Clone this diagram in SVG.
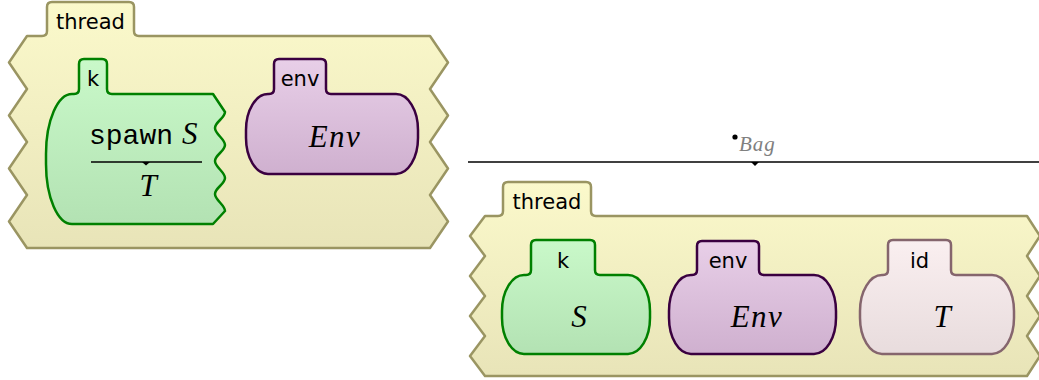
<svg xmlns="http://www.w3.org/2000/svg" width="1039" height="380" viewBox="0 0 1039 380">
<defs>
<linearGradient id="gThread" x1="0" y1="0" x2="0" y2="1"><stop offset="0" stop-color="#fbf9cb"/><stop offset="1" stop-color="#e8e4b8"/></linearGradient>
<linearGradient id="gGreen" x1="0" y1="0" x2="0" y2="1"><stop offset="0" stop-color="#c9f9c9"/><stop offset="1" stop-color="#b3e2b3"/></linearGradient>
<linearGradient id="gEnv" x1="0" y1="0" x2="0" y2="1"><stop offset="0" stop-color="#e8cfe8"/><stop offset="1" stop-color="#cfb0cf"/></linearGradient>
<linearGradient id="gId" x1="0" y1="0" x2="0" y2="1"><stop offset="0" stop-color="#faeff0"/><stop offset="1" stop-color="#e8dcdd"/></linearGradient>
</defs>
<style>
.thread{fill:url(#gThread);stroke:#9a9562;stroke-width:2.5;stroke-linejoin:round}
.kc{fill:url(#gGreen);stroke:#008000;stroke-width:2.5;stroke-linejoin:round}
.ec{fill:url(#gEnv);stroke:#3a0040;stroke-width:2.5;stroke-linejoin:round}
.ic{fill:url(#gId);stroke:#85656d;stroke-width:2.5;stroke-linejoin:round}
.lbl{font-family:"DejaVu Sans","Liberation Sans",sans-serif;font-size:21px;fill:#000;text-anchor:middle}
.mi{font-family:"Liberation Serif","DejaVu Serif",serif;font-style:italic;font-size:31px;fill:#000}
.tt{font-family:"Liberation Mono","DejaVu Sans Mono",monospace;font-size:28px;fill:#000}
.rule{stroke:#000;stroke-width:1.3;fill:none}
.tip{fill:#000;stroke:none}
</style>

<g id="thread-left">
<path class="thread" d="M27,36 L42,36 Q47,36 47,31 L47,7 Q47,2 52,2 L129,2 Q134,2 134,7 L134,31 Q134,36 139,36 L430,36 L448,62.5 L430,89 L448,115.5 L430,142 L448,168.5 L430,195 L448,221.5 L430,248 L27,248 L9,221.5 L27,195 L9,168.5 L27,142 L9,115.5 L27,89 L9,62.5 Z"/>
<text class="lbl" x="90.5" y="29">thread</text>
</g>

<g id="k-left">
<path class="kc" d="M72,94 L74,94 Q79,94 79,89 L79,64 Q79,59 84,59 L102,59 Q107,59 107,64 L107,89 Q107,94 112,94 L213,94 L225,112 C225,118 215,122 215,128 C215,134 225,139 225,145 C225,151 215,155 215,161 C215,167 225,172 225,178 C225,184 215,188 215,194 C215,200 225,205 225,211 L213,224 L72,224 A26 60 0 0 1 46,164 L46,154 A26 60 0 0 1 72,94 Z"/>
<text class="lbl" x="93" y="86">k</text>
<text x="89" y="144"><tspan class="tt">spawn</tspan><tspan class="mi" x="182">S</tspan></text>
<line class="rule" x1="91" y1="162" x2="202" y2="162" stroke="#333"/>
<polygon class="tip" points="142,162 150,162 146,165.5"/>
<text class="mi" x="148" y="196" text-anchor="middle">T</text>
</g>

<g id="env-left">
<path class="ec" d="M268,94 L269,94 Q274,94 274,89 L274,64 Q274,59 279,59 L321,59 Q326,59 326,64 L326,89 Q326,94 331,94 L396,94 A22 36 0 0 1 418,130 L418,138 A22 36 0 0 1 396,174 L268,174 A22 36 0 0 1 246,138 L246,130 A22 36 0 0 1 268,94 Z"/>
<text class="lbl" x="300" y="86">env</text>
<text class="mi" x="335" y="147" text-anchor="middle" letter-spacing="1.5">Env</text>
</g>

<g id="connectors">
<line class="rule" x1="468" y1="162" x2="1039" y2="162"/>
<polygon class="tip" points="751,162 759,162 755,166"/>
<circle cx="735" cy="137" r="2.6" fill="#000"/>
<text x="739" y="151" font-family="Liberation Serif, serif" font-style="italic" font-size="21" fill="#808080" letter-spacing="1">Bag</text>
</g>

<g id="thread-right">
<path class="thread" d="M485,216 L498,216 Q503,216 503,211 L503,187 Q503,182 508,182 L586,182 Q591,182 591,187 L591,211 Q591,216 596,216 L1027,216 L1040,236 L1027,256 L1040,276 L1027,296 L1040,316 L1027,336 L1040,356 L1027,376 L485,376 L470,356 L485,336 L470,316 L485,296 L470,276 L485,256 L470,236 Z"/>
<text class="lbl" x="547" y="209">thread</text>
</g>

<g id="k-right">
<path class="kc" d="M524,275 L526,275 Q531,275 531,270 L531,245 Q531,240 536,240 L590,240 Q595,240 595,245 L595,270 Q595,275 600,275 L628,275 A22 36 0 0 1 650,311 L650,318 A22 36 0 0 1 628,354 L524,354 A22 36 0 0 1 502,318 L502,311 A22 36 0 0 1 524,275 Z"/>
<text class="lbl" x="563" y="268">k</text>
<text class="mi" x="579" y="327" text-anchor="middle">S</text>
</g>

<g id="env-right">
<path class="ec" d="M691,275 L692,275 Q697,275 697,270 L697,246 Q697,241 702,241 L754,241 Q759,241 759,246 L759,270 Q759,275 764,275 L814,275 A22 36 0 0 1 836,311 L836,318 A22 36 0 0 1 814,354 L691,354 A22 36 0 0 1 669,318 L669,311 A22 36 0 0 1 691,275 Z"/>
<text class="lbl" x="728" y="268">env</text>
<text class="mi" x="757" y="327" text-anchor="middle" letter-spacing="1.5">Env</text>
</g>

<g id="id-right">
<path class="ic" d="M882,275 L883,275 Q888,275 888,270 L888,245 Q888,240 893,240 L946,240 Q951,240 951,245 L951,270 Q951,275 956,275 L992,275 A22 36 0 0 1 1014,311 L1014,318 A22 36 0 0 1 992,354 L882,354 A22 36 0 0 1 860,318 L860,311 A22 36 0 0 1 882,275 Z"/>
<text class="lbl" x="919.5" y="268">id</text>
<text class="mi" x="942" y="327" text-anchor="middle">T</text>
</g>
</svg>
